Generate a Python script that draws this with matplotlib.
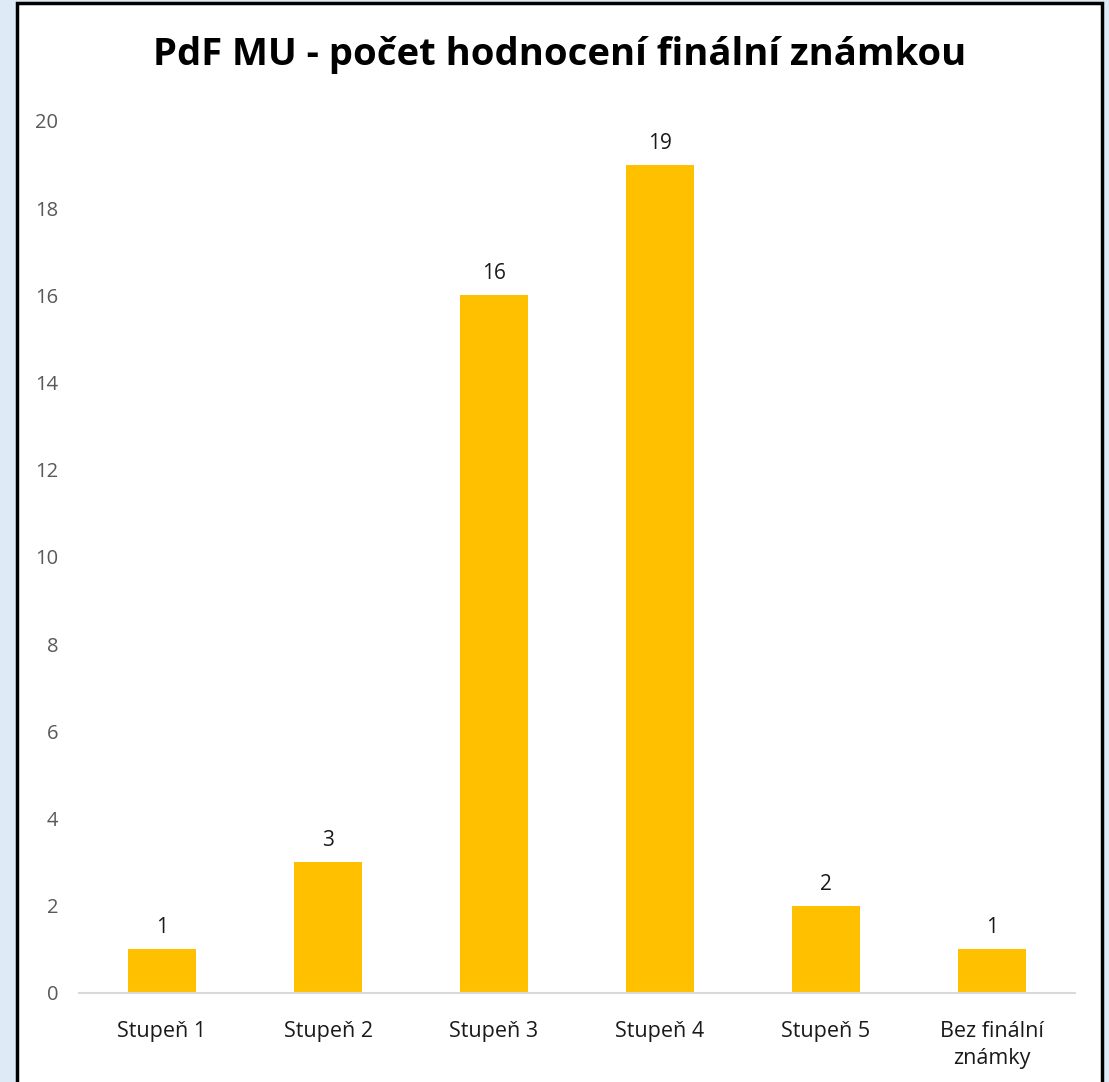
import matplotlib.pyplot as plt
from matplotlib.patches import Rectangle

plt.rcParams['font.family'] = ['Open Sans', 'DejaVu Sans']

categories = ["Stupeň 1", "Stupeň 2", "Stupeň 3", "Stupeň 4", "Stupeň 5", "Bez finální\nznámky"]
counts = [1, 3, 16, 19, 2, 1]
yticks = [0, 2, 4, 6, 8, 10, 12, 14, 16, 18, 20]

W, H = 1109, 1082
fig = plt.figure(figsize=(W / 100, H / 100), dpi=100)
fig.patch.set_facecolor("#DEEAF6")

# white chart box with black border
fig.patches.append(Rectangle((17 / W, -0.01), (1102 - 17) / W, (H - 3) / H + 0.01,
                             transform=fig.transFigure, facecolor="white",
                             edgecolor="black", linewidth=2.5, zorder=-5))

ax = fig.add_axes([79 / W, (H - 993) / H, (1075 - 79) / W, (993 - 121) / H], zorder=2)
ax.set_facecolor("none")

x = range(len(categories))
bars = ax.bar(x, counts, width=0.41, color="#FFC000", zorder=2)
for b, v in zip(bars, counts):
    ax.annotate(str(v), (b.get_x() + b.get_width() / 2, v), xytext=(0, 16),
                textcoords="offset pixels", ha="center", va="baseline",
                fontsize=15, color="#1a1a1a")

ax.set_xlim(-0.5, len(categories) - 0.5)
ax.set_ylim(0, 20)
ax.set_yticks(yticks)
ax.set_xticks(list(x))
ax.set_xticklabels(categories, fontsize=15.5, color="#1a1a1a", linespacing=1.4)
ax.tick_params(axis="y", labelsize=14.5, labelcolor="#595959", length=0, pad=15)
ax.tick_params(axis="x", length=0, pad=20)
for s in ["top", "right", "left"]:
    ax.spines[s].set_visible(False)
ax.spines["bottom"].set_color("#D9D9D9")
ax.spines["bottom"].set_linewidth(1.5)

fig.text(560 / W, 1 - 55 / H, "PdF MU - počet hodnocení finální známkou", ha="center",
         va="center", fontsize=27.5, fontweight="bold", color="black", zorder=3)

fig.savefig("out.png", dpi=100, facecolor=fig.get_facecolor())
